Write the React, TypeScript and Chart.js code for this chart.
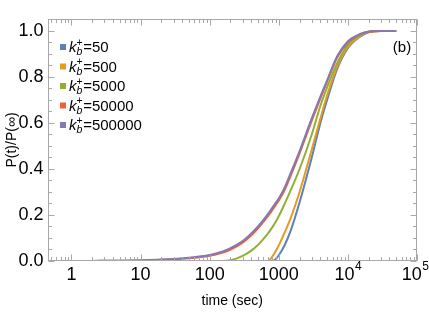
import React, { useEffect, useRef } from "react";
import { Chart, registerables } from "chart.js";

Chart.register(...registerables);

// time (sec)
const TIMES = [1, 2, 5, 10, 20, 50, 100, 150, 200, 300, 400, 500, 700, 800, 900, 1000, 1200, 1500, 2000, 3000, 4000, 5000, 7000, 10000, 15000, 20000, 30000, 50000];

// P(t)/P(inf) for each k_b^+
const P_K50 = [0, 0, 0, 0, 0, 0, 0, 0, 0, 0, 0, 0, 0, 0, 0.008, 0.025, 0.065, 0.135, 0.255, 0.45, 0.6, 0.7, 0.835, 0.925, 0.975, 0.994, 1, 1];
const P_K500 = [0, 0, 0, 0, 0, 0, 0, 0, 0, 0, 0, 0, 0, 0.018, 0.042, 0.068, 0.12, 0.19, 0.3, 0.485, 0.62, 0.72, 0.845, 0.93, 0.978, 0.995, 1, 1];
const P_K5000 = [0, 0, 0, 0, 0, 0, 0, 0, 0.003, 0.022, 0.045, 0.07, 0.12, 0.145, 0.17, 0.195, 0.245, 0.31, 0.4, 0.55, 0.675, 0.755, 0.86, 0.94, 0.982, 0.996, 1, 1];
const P_K50000 = [0, 0.0004, 0.001, 0.002, 0.005, 0.012, 0.023, 0.036, 0.05, 0.08, 0.112, 0.142, 0.196, 0.22, 0.243, 0.263, 0.305, 0.374, 0.468, 0.61, 0.707, 0.78, 0.885, 0.95, 0.985, 0.997, 1, 1];
const P_K500000 = [0, 0.0005, 0.0013, 0.003, 0.006, 0.014, 0.026, 0.04, 0.056, 0.087, 0.12, 0.15, 0.205, 0.23, 0.252, 0.272, 0.315, 0.385, 0.478, 0.62, 0.715, 0.785, 0.89, 0.955, 0.987, 0.998, 1, 1];

const SERIES_VALUES = [P_K50, P_K500, P_K5000, P_K50000, P_K500000];
const SERIES_LABELS = ["50", "500", "5000", "50000", "500000"];
const SERIES_COLORS = ["#5E81B5", "#E19C24", "#8FB032", "#EB6235", "#8778B3"];

const X_TICKS = [1, 10, 100, 1000, 10000, 100000];
const Y_TICKS = [0, 0.2, 0.4, 0.6, 0.8, 1.0];

const FONT = "'Liberation Sans', Arial, sans-serif";

const framePlugin = {
  id: "mmaFrame",
  afterDraw(chart: any) {
    const { ctx, chartArea: a } = chart;
    const x = chart.scales.x;
    const y = chart.scales.y;
    ctx.save();
    const L = Math.round(a.left) + 0.5;
    const R = Math.round(a.right) - 0.5;
    const T = Math.round(a.top) + 0.5;
    const B = Math.round(a.bottom) - 0.5;
    ctx.strokeStyle = "#a8a8a8";
    ctx.lineWidth = 1;
    ctx.strokeRect(L, T, R - L, B - T);
    ctx.beginPath();
    // x ticks (log)
    for (let d = -1; d <= 5; d++) {
      for (let m = 1; m <= 9; m++) {
        const v = m * Math.pow(10, d);
        if (v < x.min || v > x.max) continue;
        const px = Math.round(x.getPixelForValue(v)) + 0.5;
        const len = m === 1 ? 6 : 3.5;
        ctx.moveTo(px, B);
        ctx.lineTo(px, B - len);
        ctx.moveTo(px, T);
        ctx.lineTo(px, T + len);
      }
    }
    // y ticks
    for (let i = 0; i <= 21; i++) {
      const v = i * 0.05;
      if (v > y.max + 1e-9) continue;
      const py = Math.round(y.getPixelForValue(v)) + 0.5;
      const len = i % 4 === 0 ? 6 : 3.5;
      ctx.moveTo(L, py);
      ctx.lineTo(L + len, py);
      ctx.moveTo(R, py);
      ctx.lineTo(R - len, py);
    }
    ctx.stroke();

    // y tick labels
    ctx.fillStyle = "#000";
    ctx.textBaseline = "middle";
    ctx.textAlign = "right";
    ctx.font = `18px ${FONT}`;
    for (const v of Y_TICKS) {
      ctx.fillText(v.toFixed(1), a.left - 4, y.getPixelForValue(v) + 0.5);
    }

    // x tick labels
    const labY = B + 14.5;
    for (const v of X_TICKS) {
      const px = x.getPixelForValue(v);
      const e = Math.round(Math.log10(v));
      if (e < 4) {
        ctx.font = `18px ${FONT}`;
        ctx.textAlign = "center";
        ctx.fillText(String(v), px, labY);
      } else {
        ctx.font = `18px ${FONT}`;
        const w1 = ctx.measureText("10").width;
        ctx.font = `12px ${FONT}`;
        const w2 = ctx.measureText(String(e)).width;
        const start = px - (w1 + w2) / 2 - (e === 5 ? 2 : 0);
        ctx.textAlign = "left";
        ctx.font = `18px ${FONT}`;
        ctx.fillText("10", start, labY);
        ctx.font = `12px ${FONT}`;
        ctx.fillText(String(e), start + w1 + 0.5, labY - 8);
      }
    }

    // legend
    const lx = 60;
    const ly0 = 47;
    const step = 19.5;
    ctx.textBaseline = "alphabetic";
    ctx.textAlign = "left";
    SERIES_LABELS.forEach((lab, i) => {
      const cy = ly0 + i * step;
      ctx.fillStyle = SERIES_COLORS[i];
      ctx.fillRect(lx, cy - 3, 6, 6);
      ctx.fillStyle = "#000";
      let tx = lx + 9;
      const base = cy + 5;
      ctx.font = `italic 15px ${FONT}`;
      ctx.fillText("k", tx, base);
      tx += ctx.measureText("k").width;
      ctx.font = `italic 10.5px ${FONT}`;
      ctx.fillText("b", tx, base + 3);
      const wb = ctx.measureText("b").width;
      ctx.font = `10.5px ${FONT}`;
      ctx.fillText("+", tx, base - 6.5);
      const wp = ctx.measureText("+").width;
      tx += Math.max(wb, wp) + 0.5;
      ctx.font = `15px ${FONT}`;
      ctx.fillText("=" + lab, tx, base);
    });

    // panel label
    ctx.font = `15px ${FONT}`;
    ctx.textAlign = "center";
    ctx.textBaseline = "middle";
    ctx.fillText("(b)", 402, 48);
    ctx.restore();
  },
};

export default function App() {
  const ref = useRef<HTMLCanvasElement | null>(null);
  useEffect(() => {
    if (!ref.current) return;
    const chart = new Chart(ref.current, {
      type: "line",
      data: {
        labels: TIMES,
        datasets: SERIES_VALUES.map((vals, i) => ({
          label: "k=" + SERIES_LABELS[i],
          data: vals.map((v, j) => ({ x: TIMES[j], y: v })),
          borderColor: SERIES_COLORS[i],
          backgroundColor: SERIES_COLORS[i],
          borderWidth: 2,
          pointRadius: 0,
          fill: false,
          cubicInterpolationMode: "monotone" as const,
          order: SERIES_VALUES.length - i,
        })),
      },
      options: {
        animation: false,
        responsive: false,
        maintainAspectRatio: false,
        layout: { padding: { top: 19, right: 12, left: 0, bottom: 0 } },
        plugins: { legend: { display: false }, tooltip: { enabled: false } },
        scales: {
          x: {
            type: "logarithmic",
            min: 0.45,
            max: 100000,
            border: { display: false },
            grid: { display: false },
            ticks: { display: false },
            afterFit: (s: any) => {
              s.height = 64;
            },
            title: {
              display: true,
              text: "time (sec)",
              color: "#000",
              font: { family: FONT, size: 14 },
              padding: { top: 0, bottom: 15 },
            },
          },
          y: {
            type: "linear",
            min: 0,
            max: 1.052,
            border: { display: false },
            grid: { display: false },
            afterBuildTicks: (s: any) => {
              s.ticks = Y_TICKS.map((v) => ({ value: v }));
            },
            ticks: { display: false },
            afterFit: (s: any) => {
              s.width = 47.5;
            },
            title: {
              display: true,
              text: "P(t)/P(∞)",
              color: "#000",
              font: { family: FONT, size: 14 },
              padding: { top: 4, bottom: 0 },
            },
          },
        },
      },
      plugins: [framePlugin],
    });
    return () => chart.destroy();
  }, []);
  return (
    <div style={{ position: "absolute", left: 0, top: 0, width: 429, height: 325, background: "#fff" }}>
      <canvas ref={ref} width={429} height={325} />
    </div>
  );
}
